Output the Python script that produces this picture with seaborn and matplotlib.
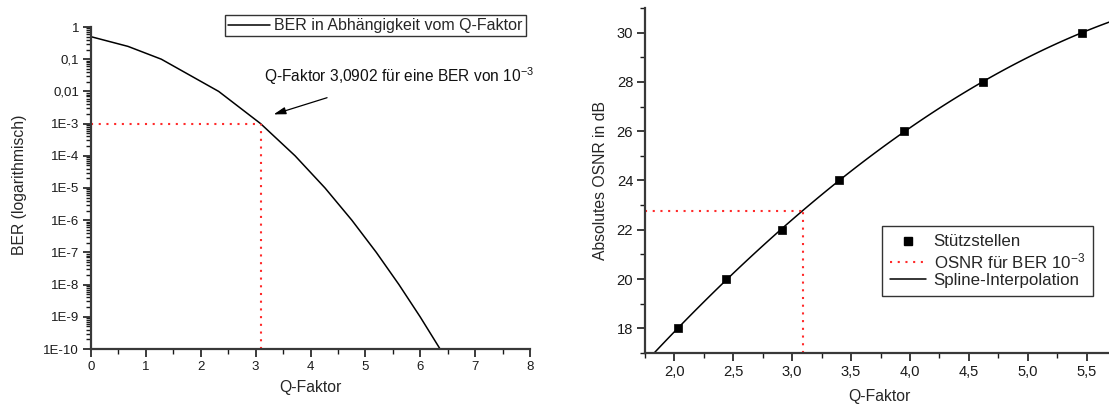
import numpy as np
import pandas as pd
import matplotlib
matplotlib.use("Agg")
import matplotlib.pyplot as plt
import matplotlib.ticker as mticker
from matplotlib.lines import Line2D
import seaborn as sns

# ---------------- data ----------------
# left: BER vs Q-factor (tabulated)
q_left = [0.0, 0.674, 1.2816, 2.3263, 3.0902, 3.7190, 4.2649, 4.7534, 5.1993, 5.6120, 5.9978, 6.3613]
ber_left = [0.5, 0.25, 0.1, 1e-2, 1e-3, 1e-4, 1e-5, 1e-6, 1e-7, 1e-8, 1e-9, 1e-10]
ber_ticks = [1e-10, 1e-9, 1e-8, 1e-7, 1e-6, 1e-5, 1e-4, 1e-3, 1e-2, 1e-1, 1]
ber_ticklabels = ["1E-10", "1E-9", "1E-8", "1E-7", "1E-6", "1E-5", "1E-4", "1E-3", "0,01", "0,1", "1"]
q_ref = 3.0902
ber_ref = 1e-3

# right: absolute OSNR vs Q-factor
q_right = [2.03, 2.44, 2.91, 3.40, 3.95, 4.62, 5.46]
osnr_right = [18, 20, 22, 24, 26, 28, 30]
osnr_ref = 22.75

sns.set_theme(style="ticks")
plt.rcParams["font.family"] = ["Liberation Sans", "DejaVu Sans"]
plt.rcParams["mathtext.fontset"] = "custom"
plt.rcParams["mathtext.rm"] = "Liberation Sans"
plt.rcParams["mathtext.it"] = "Liberation Sans"
plt.rcParams["mathtext.default"] = "regular"
plt.rcParams["axes.edgecolor"] = "#383838"
plt.rcParams["axes.linewidth"] = 1.6
for k in ["xtick.color", "ytick.color", "xtick.labelcolor", "ytick.labelcolor"]:
    plt.rcParams[k] = "#1a1a1a"

W, H = 1109, 408
fig = plt.figure(figsize=(W / 100, H / 100), dpi=100)
fig.patch.set_facecolor("white")

def fx(px):
    return px / W

def fy(py):
    return 1 - py / H

ax1 = fig.add_axes([fx(91), fy(349), fx(530) - fx(91), fy(27) - fy(349)])
ax2 = fig.add_axes([fx(645), fy(353), 1.0 - fx(645), fy(8) - fy(353)])

label_fs = 11.3
red = "#ff2a2a"
dots = (0, (1, 2.7))

# ---------------- left plot ----------------
df_left = pd.DataFrame({"Q": q_left, "BER": ber_left})
ax1.set_yscale("log")
sns.lineplot(data=df_left, x="Q", y="BER", ax=ax1, color="black", linewidth=1.1,
             label="BER in Abhängigkeit vom Q-Faktor")
ax1.plot([0, q_ref], [ber_ref, ber_ref], linestyle=dots, color=red, linewidth=1.5)
ax1.plot([q_ref, q_ref], [1e-10, ber_ref], linestyle=dots, color=red, linewidth=1.5)
ax1.set_xlim(0, 8)
ax1.set_ylim(1e-10, 1)
ax1.set_xticks(range(0, 9))
ax1.xaxis.set_minor_locator(mticker.MultipleLocator(0.5))
ax1.set_yticks(ber_ticks)
ax1.set_yticklabels(ber_ticklabels)
ax1.yaxis.set_minor_locator(mticker.LogLocator(base=10, subs=np.arange(2, 10), numticks=30))
ax1.yaxis.set_minor_formatter(mticker.NullFormatter())
ax1.set_xlabel("Q-Faktor", fontsize=label_fs)
ax1.set_ylabel("BER (logarithmisch)", fontsize=label_fs)
ax1.xaxis.set_label_coords(0.499, -0.096)
ax1.yaxis.set_label_coords(-0.145, 0.51)
ax1.xaxis.label.set_va("top")
ax1.tick_params(axis="both", which="major", labelsize=9.5, length=5.5, width=1.2, direction="out", pad=3)
ax1.tick_params(axis="both", which="minor", length=3.5, width=1.0, direction="out")
sns.despine(ax=ax1)
ax1.text(3.15, 10 ** -1.52, "Q-Faktor 3,0902 für eine BER von 10$^{-3}$", fontsize=11.2,
         va="center", ha="left", color="#111111")
ax1.annotate("", xy=(3.28, 10 ** -2.74), xytext=(4.35, 10 ** -2.17),
             arrowprops=dict(arrowstyle="-|>,head_length=0.6,head_width=0.18", color="black", lw=0.9))
leg1 = ax1.legend(loc="upper right", bbox_to_anchor=(fx(526), fy(15)), bbox_transform=fig.transFigure,
                  frameon=True, fancybox=False, edgecolor="black", fontsize=11.5, borderaxespad=0,
                  handlelength=2.6, borderpad=0.2, handletextpad=0.3)
leg1.get_frame().set_linewidth(1.0)

# ---------------- right plot ----------------
df_right = pd.DataFrame({"Q": q_right, "OSNR": osnr_right})
ax2.set_xlim(1.75, 5.69)
ax2.set_ylim(17, 31)
sns.regplot(data=df_right, x="Q", y="OSNR", ax=ax2, order=3, ci=None, scatter=False,
            truncate=False, line_kws=dict(color="black", linewidth=1.1))
ax2.plot([1.75, q_ref], [osnr_ref, osnr_ref], linestyle=dots, color=red, linewidth=1.5)
ax2.plot([q_ref, q_ref], [17, osnr_ref], linestyle=dots, color=red, linewidth=1.5)
sns.scatterplot(data=df_right, x="Q", y="OSNR", ax=ax2, marker="s", s=36, color="black",
                edgecolor="black", linewidth=0.5, zorder=5)
ax2.set_xlim(1.75, 5.69)
ax2.set_ylim(17, 31)
ax2.xaxis.set_major_locator(mticker.MultipleLocator(0.5))
ax2.xaxis.set_minor_locator(mticker.MultipleLocator(0.25))
ax2.xaxis.set_major_formatter(mticker.FuncFormatter(lambda v, p: f"{v:.1f}".replace(".", ",")))
ax2.yaxis.set_major_locator(mticker.MultipleLocator(2))
ax2.yaxis.set_minor_locator(mticker.MultipleLocator(1))
ax2.set_xlabel("Q-Faktor", fontsize=label_fs)
ax2.set_ylabel("Absolutes OSNR in dB", fontsize=label_fs)
ax2.xaxis.set_label_coords(0.506, -0.104)
ax2.yaxis.set_label_coords(-0.080, 0.5)
ax2.xaxis.label.set_va("top")
ax2.tick_params(axis="both", which="major", labelsize=10.6, length=5.5, width=1.2, direction="out", pad=3)
ax2.tick_params(axis="both", which="minor", length=3.5, width=1.0, direction="out")
sns.despine(ax=ax2)

handles = [
    Line2D([], [], linestyle="none", marker="s", markersize=6, color="black"),
    Line2D([], [], linestyle=dots, color=red, linewidth=1.5),
    Line2D([], [], color="black", linewidth=1.1),
]
labels = ["Stützstellen", "OSNR für BER 10$^{-3}$", "Spline-Interpolation"]
leg2 = ax2.legend(handles, labels, loc="upper left", bbox_to_anchor=(fx(882), fy(226)),
                  bbox_transform=fig.transFigure, frameon=True, fancybox=False, edgecolor="black",
                  fontsize=12.2, borderaxespad=0, handlelength=2.1, borderpad=0.5,
                  handletextpad=0.45, labelspacing=0.1)
leg2.get_frame().set_linewidth(1.0)

fig.savefig("out.png", dpi=100, facecolor="white")
